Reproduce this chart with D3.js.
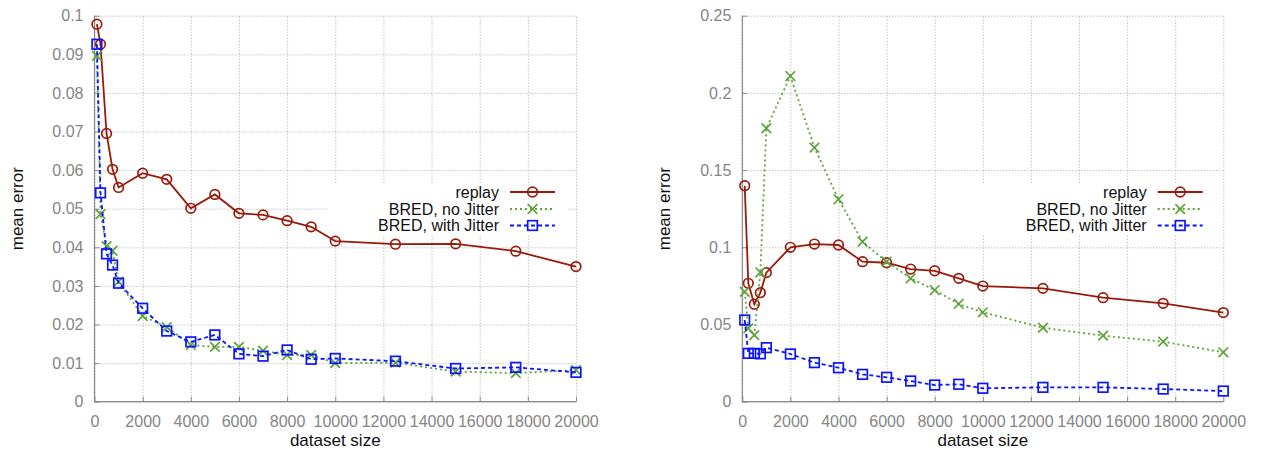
<!DOCTYPE html>
<html><head><meta charset="utf-8">
<script src="https://cdn.jsdelivr.net/npm/d3@7/dist/d3.min.js"></script>
<style>
html,body{margin:0;padding:0;background:#fff;}
svg text{font-family:"Liberation Sans",Arial,Helvetica,sans-serif;}
</style></head>
<body><svg id="chart" width="1261" height="454"></svg>
<script>
const sizes = [100, 250, 500, 750, 1000, 2000, 3000, 4000, 5000, 6000, 7000, 8000, 9000, 10000, 12500, 15000, 17500, 20000];

const replayLeft = [0.0978, 0.0926, 0.0695, 0.0602, 0.0555, 0.0592, 0.0576, 0.0501, 0.0537, 0.0488, 0.0484, 0.0469, 0.0453, 0.0416, 0.0408, 0.0409, 0.0390, 0.0350];
const noJitterLeft = [0.0896, 0.0486, 0.0403, 0.0391, 0.0311, 0.0222, 0.0193, 0.0147, 0.0142, 0.0142, 0.0132, 0.0121, 0.0121, 0.0100, 0.0101, 0.0078, 0.0074, 0.0082];
const withJitterLeft = [0.0926, 0.0541, 0.0383, 0.0354, 0.0307, 0.0242, 0.0183, 0.0155, 0.0173, 0.0124, 0.0118, 0.0134, 0.0110, 0.0112, 0.0105, 0.0086, 0.0089, 0.0076];

const replayRight = [0.1399, 0.0767, 0.0631, 0.0706, 0.0836, 0.1000, 0.1021, 0.1015, 0.0907, 0.0900, 0.0859, 0.0848, 0.0799, 0.0749, 0.0734, 0.0674, 0.0637, 0.0577];
const noJitterRight = [0.0712, 0.0475, 0.0431, 0.0838, 0.1771, 0.2109, 0.1645, 0.1311, 0.1036, 0.0907, 0.0799, 0.0723, 0.0633, 0.0579, 0.0479, 0.0428, 0.0389, 0.0320];
const withJitterRight = [0.0529, 0.0313, 0.0313, 0.0310, 0.0350, 0.0309, 0.0253, 0.0220, 0.0177, 0.0158, 0.0134, 0.0108, 0.0113, 0.0087, 0.0093, 0.0093, 0.0082, 0.0069];

const xTicks = [0, 2000, 4000, 6000, 8000, 10000, 12000, 14000, 16000, 18000, 20000];
const yTicksLeft = [0, 0.01, 0.02, 0.03, 0.04, 0.05, 0.06, 0.07, 0.08, 0.09, 0.1];
const yTicksRight = [0, 0.05, 0.1, 0.15, 0.2, 0.25];
const seriesNames = ["replay", "BRED, no Jitter", "BRED, with Jitter"];
const xTitle = "dataset size";
const yTitle = "mean error";

const colors = ["#991a0a", "#5ea33a", "#0a14ff"];
const dashes = [null, "2,3", "4,3"];
const markers = ["circle", "x", "square"];

const svg = d3.select("#chart");

function drawMarker(g, type, x, y, color) {
  if (type === "circle") {
    g.append("circle").attr("cx", x).attr("cy", y).attr("r", 4.8)
      .attr("fill", "none").attr("stroke", color).attr("stroke-width", 1.7);
  } else if (type === "square") {
    g.append("rect").attr("x", x - 4.8).attr("y", y - 4.8).attr("width", 9.6).attr("height", 9.6)
      .attr("fill", "none").attr("stroke", color).attr("stroke-width", 1.7);
  } else {
    const s = 4.8;
    g.append("path").attr("d", `M${x - s},${y - s}L${x + s},${y + s}M${x - s},${y + s}L${x + s},${y - s}`)
      .attr("fill", "none").attr("stroke", color).attr("stroke-width", 1.7);
  }
}

function panel(left, right, yMax, yTicks, series, legendTextRight) {
  const top = 15.7, bottom = 401.7;
  const x = d3.scaleLinear().domain([0, 20000]).range([left, right]);
  const y = d3.scaleLinear().domain([0, yMax]).range([bottom, top]);
  const g = svg.append("g");

  // grid
  const gridY = g.append("g").attr("transform", `translate(${left},0)`)
    .call(d3.axisLeft(y).tickValues(yTicks).tickSize(-(right - left)).tickFormat(""));
  const gridX = g.append("g").attr("transform", `translate(0,${bottom})`)
    .call(d3.axisBottom(x).tickValues(xTicks).tickSize(-(bottom - top)).tickFormat(""));
  [gridX, gridY].forEach(a => {
    a.select(".domain").remove();
    a.selectAll("line").attr("stroke", "#a8a8a8").attr("stroke-width", 1).attr("stroke-dasharray", "1,2");
  });

  // legend background
  const lx0 = legendTextRight - 171, lx1 = legendTextRight + 68;
  g.append("rect").attr("x", lx0).attr("y", 183).attr("width", lx1 - lx0).attr("height", 51).attr("fill", "#fff");

  // axes
  const ax = g.append("g").attr("transform", `translate(0,${bottom})`)
    .call(d3.axisBottom(x).tickValues(xTicks).tickSize(-5).tickPadding(14).tickFormat(d3.format("d")));
  const ay = g.append("g").attr("transform", `translate(${left},0)`)
    .call(d3.axisLeft(y).tickValues(yTicks).tickSize(-5).tickPadding(11).tickFormat(d => d === 0 ? "0" : String(+d.toFixed(3))));
  [ax, ay].forEach(a => {
    a.select(".domain").attr("stroke", "#8a8a8a").attr("stroke-width", 1.2);
    a.selectAll(".tick line").attr("stroke", "#8a8a8a");
    a.selectAll(".tick text").attr("fill", "#858585").attr("font-size", 16)
      .attr("font-family", "Liberation Sans, Arial, sans-serif");
  });
  ax.selectAll(".domain").attr("d", `M${left},0H${right}`);
  ay.selectAll(".domain").attr("d", `M0,${bottom}V${top}`);

  // titles
  g.append("text").attr("x", (left + right) / 2).attr("y", 446).attr("text-anchor", "middle")
    .attr("font-size", 17).attr("fill", "#111").text(xTitle);
  g.append("text").attr("transform", `translate(${left - 72},${(top + bottom) / 2}) rotate(-90)`)
    .attr("text-anchor", "middle").attr("font-size", 17).attr("fill", "#111").text(yTitle);

  // series
  const line = d3.line().x(d => x(d[0])).y(d => y(d[1]));
  series.forEach((vals, i) => {
    const pts = sizes.map((s, k) => [s, vals[k]]);
    const sg = g.append("g");
    sg.append("path").attr("d", line(pts)).attr("fill", "none").attr("stroke", colors[i])
      .attr("stroke-width", i === 0 ? 1.8 : 1.8).attr("stroke-dasharray", dashes[i]);
    pts.forEach(p => drawMarker(sg, markers[i], x(p[0]), y(p[1]), colors[i]));
  });

  // legend
  const rows = [192, 209, 225.5];
  seriesNames.forEach((name, i) => {
    g.append("text").attr("x", legendTextRight).attr("y", rows[i]).attr("dy", "0.35em")
      .attr("text-anchor", "end").attr("font-size", 16).attr("fill", "#111").text(name);
    const l0 = legendTextRight + 11, l1 = legendTextRight + 56;
    g.append("line").attr("x1", l0).attr("x2", l1).attr("y1", rows[i]).attr("y2", rows[i])
      .attr("stroke", colors[i]).attr("stroke-width", 1.8).attr("stroke-dasharray", dashes[i]);
    drawMarker(g, markers[i], (l0 + l1) / 2, rows[i], colors[i]);
  });
}

panel(94.5, 576, 0.1, yTicksLeft, [replayLeft, noJitterLeft, withJitterLeft], 499);
panel(742.3, 1223.3, 0.25, yTicksRight, [replayRight, noJitterRight, withJitterRight], 1146.7);
</script></body></html>
